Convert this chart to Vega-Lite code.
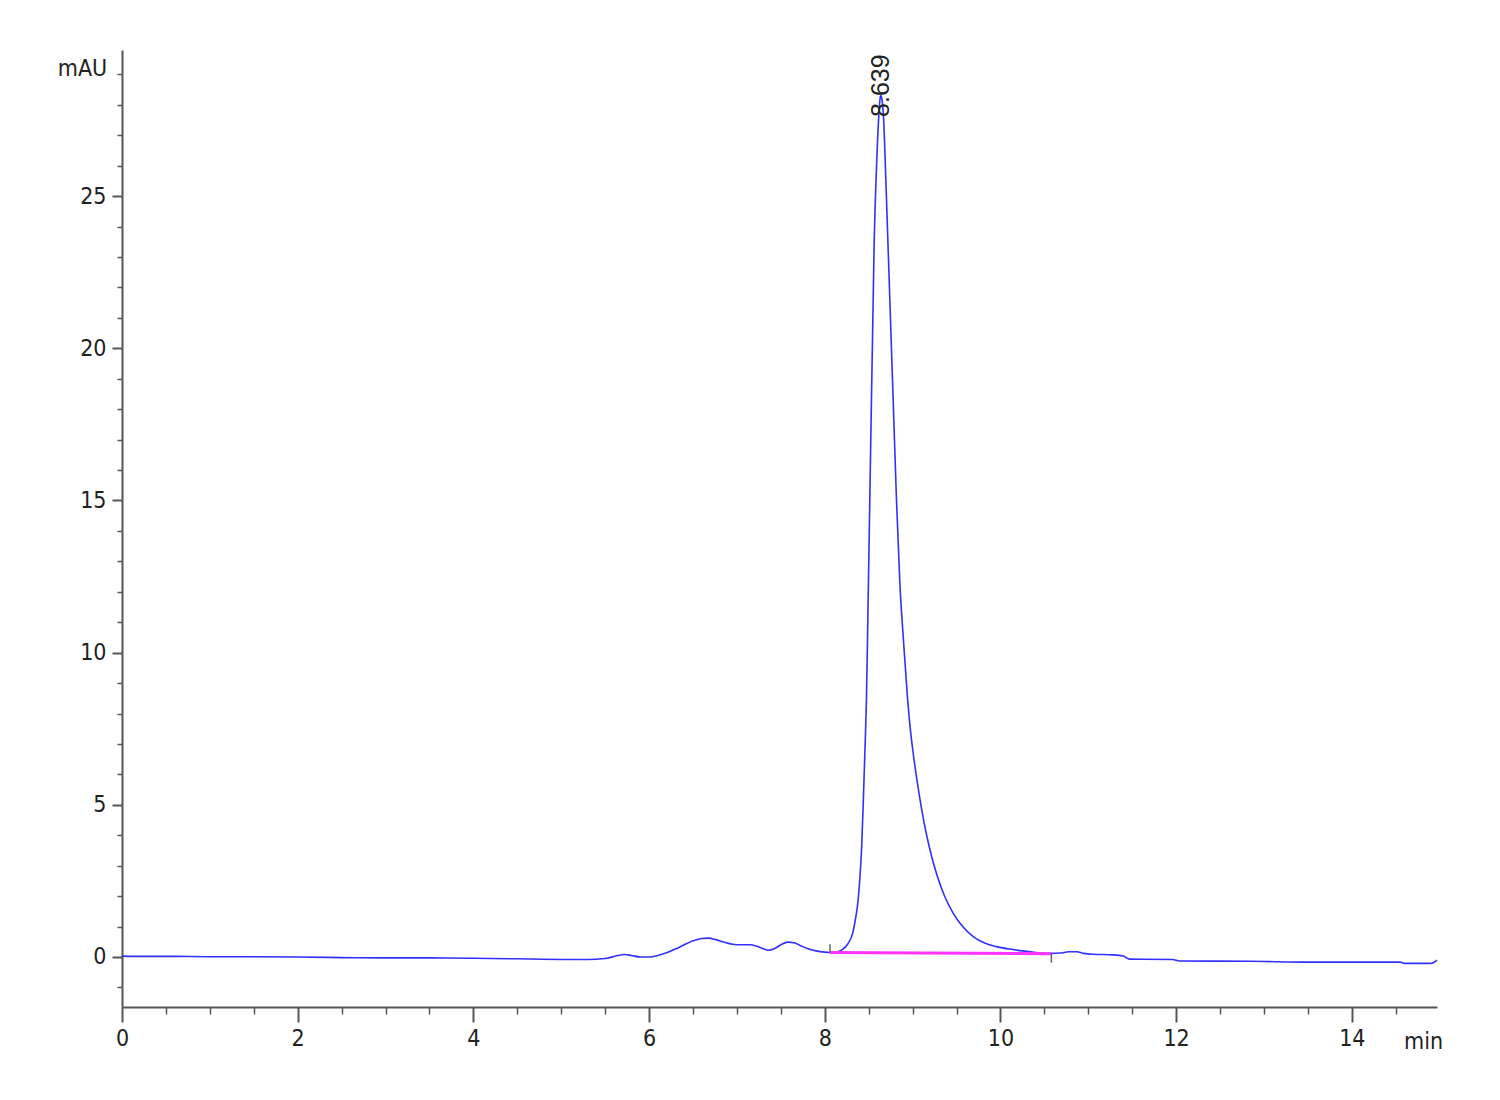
{
  "$schema": "https://vega.github.io/schema/vega-lite/v6.json",
  "width": 1315,
  "height": 957,
  "autosize": "none",
  "padding": {"left": 122, "top": 50, "right": 63, "bottom": 93},
  "background": "white",
  "config": {"view": {"stroke": null}, "font": "DejaVu Sans Condensed, Liberation Sans, Arial"},
  "datasets": {
    "curve": [
      {"t": 0, "mAU": 0.03}, {"t": 0.3, "mAU": 0.02}, {"t": 0.6, "mAU": 0.02}, {"t": 1.0, "mAU": 0.01},
      {"t": 1.5, "mAU": 0.01}, {"t": 2.0, "mAU": 0.0}, {"t": 2.5, "mAU": -0.02}, {"t": 3.0, "mAU": -0.03},
      {"t": 3.5, "mAU": -0.03}, {"t": 4.0, "mAU": -0.04}, {"t": 4.5, "mAU": -0.06}, {"t": 5.0, "mAU": -0.08},
      {"t": 5.3, "mAU": -0.08}, {"t": 5.5, "mAU": -0.05}, {"t": 5.62, "mAU": 0.03}, {"t": 5.72, "mAU": 0.08},
      {"t": 5.8, "mAU": 0.05}, {"t": 5.9, "mAU": 0.0}, {"t": 6.0, "mAU": 0.0}, {"t": 6.1, "mAU": 0.05},
      {"t": 6.2, "mAU": 0.14}, {"t": 6.3, "mAU": 0.26}, {"t": 6.4, "mAU": 0.4}, {"t": 6.5, "mAU": 0.53},
      {"t": 6.6, "mAU": 0.61}, {"t": 6.68, "mAU": 0.62}, {"t": 6.76, "mAU": 0.57}, {"t": 6.85, "mAU": 0.49},
      {"t": 6.95, "mAU": 0.42}, {"t": 7.05, "mAU": 0.4}, {"t": 7.15, "mAU": 0.4}, {"t": 7.22, "mAU": 0.36},
      {"t": 7.3, "mAU": 0.27}, {"t": 7.36, "mAU": 0.22}, {"t": 7.43, "mAU": 0.28}, {"t": 7.5, "mAU": 0.4},
      {"t": 7.58, "mAU": 0.49}, {"t": 7.65, "mAU": 0.47}, {"t": 7.72, "mAU": 0.38}, {"t": 7.8, "mAU": 0.28},
      {"t": 7.9, "mAU": 0.2}, {"t": 8.0, "mAU": 0.16}, {"t": 8.06, "mAU": 0.15}, {"t": 8.13, "mAU": 0.16},
      {"t": 8.2, "mAU": 0.24}, {"t": 8.26, "mAU": 0.42}, {"t": 8.32, "mAU": 0.8}, {"t": 8.35, "mAU": 1.25},
      {"t": 8.38, "mAU": 1.87}, {"t": 8.4, "mAU": 2.6}, {"t": 8.42, "mAU": 3.6}, {"t": 8.44, "mAU": 5.2},
      {"t": 8.46, "mAU": 7.0}, {"t": 8.475, "mAU": 8.5}, {"t": 8.49, "mAU": 11.0}, {"t": 8.51, "mAU": 14.5},
      {"t": 8.53, "mAU": 18.0}, {"t": 8.545, "mAU": 20.5}, {"t": 8.563, "mAU": 23.5}, {"t": 8.59, "mAU": 26.0},
      {"t": 8.619, "mAU": 27.8}, {"t": 8.63, "mAU": 28.2}, {"t": 8.639, "mAU": 28.3}, {"t": 8.65, "mAU": 28.2},
      {"t": 8.665, "mAU": 27.8}, {"t": 8.703, "mAU": 24.9}, {"t": 8.741, "mAU": 21.6}, {"t": 8.779, "mAU": 18.3},
      {"t": 8.817, "mAU": 15.0}, {"t": 8.855, "mAU": 12.3}, {"t": 8.9, "mAU": 10.25}, {"t": 8.94, "mAU": 8.6},
      {"t": 8.97, "mAU": 7.6}, {"t": 9.0, "mAU": 6.85}, {"t": 9.05, "mAU": 5.81}, {"t": 9.1, "mAU": 4.91},
      {"t": 9.16, "mAU": 4.0}, {"t": 9.22, "mAU": 3.27}, {"t": 9.28, "mAU": 2.67}, {"t": 9.36, "mAU": 2.03},
      {"t": 9.46, "mAU": 1.45}, {"t": 9.57, "mAU": 1.0}, {"t": 9.69, "mAU": 0.67},
      {"t": 9.82, "mAU": 0.46}, {"t": 9.955, "mAU": 0.34}, {"t": 10.1, "mAU": 0.26}, {"t": 10.22, "mAU": 0.21},
      {"t": 10.4, "mAU": 0.15}, {"t": 10.58, "mAU": 0.12}, {"t": 10.68, "mAU": 0.13}, {"t": 10.78, "mAU": 0.17},
      {"t": 10.87, "mAU": 0.17}, {"t": 10.95, "mAU": 0.12}, {"t": 11.05, "mAU": 0.09}, {"t": 11.28, "mAU": 0.07},
      {"t": 11.4, "mAU": 0.03}, {"t": 11.47, "mAU": -0.07}, {"t": 11.96, "mAU": -0.08}, {"t": 12.04, "mAU": -0.13},
      {"t": 12.84, "mAU": -0.14}, {"t": 13.52, "mAU": -0.17}, {"t": 14.55, "mAU": -0.17}, {"t": 14.6, "mAU": -0.21},
      {"t": 14.9, "mAU": -0.21}, {"t": 14.97, "mAU": -0.1}
    ],
    "baseline": [
      {"t": 8.06, "mAU": 0.15}, {"t": 10.58, "mAU": 0.11}
    ],
    "marks": [
      {"t": 8.06, "y1": 0.14, "y2": 0.42},
      {"t": 10.58, "y1": 0.12, "y2": -0.19}
    ],
    "label": [
      {"t": 8.636, "mAU": 27.6, "text": "8.639"}
    ]
  },
  "layer": [
    {
      "data": {"name": "curve"},
      "mark": {"type": "line", "opacity": 0},
      "encoding": {
        "x": {
          "field": "t", "type": "quantitative",
          "scale": {"domain": [0, 14.97], "nice": false, "zero": false},
          "axis": {
            "orient": "bottom",
            "values": [0.5, 1, 1.5, 2.5, 3, 3.5, 4.5, 5, 5.5, 6.5, 7, 7.5, 8.5, 9, 9.5, 10.5, 11, 11.5, 12.5, 13, 13.5, 14.5],
            "labels": false, "domain": false, "grid": false, "title": null,
            "tickSize": 7, "tickWidth": 1.5, "tickColor": "#555"
          }
        },
        "y": {
          "field": "mAU", "type": "quantitative",
          "scale": {"domain": [-1.643, 29.8], "nice": false, "zero": false},
          "axis": {
            "orient": "left",
            "values": [-1, 1, 2, 3, 4, 6, 7, 8, 9, 11, 12, 13, 14, 16, 17, 18, 19, 21, 22, 23, 24, 26, 27, 28, 29],
            "labels": false, "domain": false, "grid": false, "title": null,
            "tickSize": 5, "tickWidth": 1.5, "tickColor": "#555"
          }
        }
      }
    },
    {
      "data": {"name": "curve"},
      "mark": {"type": "line", "color": "#3030ff", "strokeWidth": 1.6, "interpolate": "monotone"},
      "encoding": {
        "x": {
          "field": "t", "type": "quantitative",
          "scale": {"domain": [0, 14.97], "nice": false, "zero": false},
          "axis": {
            "orient": "bottom",
            "values": [0, 2, 4, 6, 8, 10, 12, 14],
            "grid": false, "labelFlush": false, "labelOverlap": false,
            "domainColor": "#555", "domainWidth": 2,
            "tickSize": 15, "tickWidth": 2, "tickColor": "#555",
            "labelFontSize": 23, "labelColor": "#222", "labelPadding": 5,
            "labelFont": "DejaVu Sans Condensed, Liberation Sans, Arial",
            "title": "min", "titleFontSize": 23, "titleFontWeight": "normal", "titleColor": "#222",
            "titleFont": "DejaVu Sans Condensed, Liberation Sans, Arial",
            "titleX": 1301, "titleY": 34, "titleAlign": "center", "titleBaseline": "middle", "titleAngle": 0
          }
        },
        "y": {
          "field": "mAU", "type": "quantitative",
          "scale": {"domain": [-1.643, 29.8], "nice": false, "zero": false},
          "axis": {
            "orient": "left",
            "values": [0, 5, 10, 15, 20, 25],
            "grid": false, "labelFlush": false, "labelOverlap": false,
            "domainColor": "#555", "domainWidth": 2,
            "tickSize": 10, "tickWidth": 2, "tickColor": "#555",
            "labelFontSize": 23, "labelColor": "#222", "labelPadding": 6,
            "labelFont": "DejaVu Sans Condensed, Liberation Sans, Arial",
            "title": "mAU", "titleFontSize": 23, "titleFontWeight": "normal", "titleColor": "#222",
            "titleFont": "DejaVu Sans Condensed, Liberation Sans, Arial",
            "titleX": -40, "titleY": 18, "titleAlign": "center", "titleBaseline": "middle", "titleAngle": 0
          }
        }
      }
    },
    {
      "data": {"name": "baseline"},
      "mark": {"type": "line", "color": "#ff33ff", "strokeWidth": 3},
      "encoding": {
        "x": {"field": "t", "type": "quantitative", "axis": null},
        "y": {"field": "mAU", "type": "quantitative", "axis": null}
      }
    },
    {
      "data": {"name": "marks"},
      "mark": {"type": "rule", "color": "#666", "strokeWidth": 1.5},
      "encoding": {
        "x": {"field": "t", "type": "quantitative", "axis": null},
        "y": {"field": "y1", "type": "quantitative", "axis": null},
        "y2": {"field": "y2"}
      }
    },
    {
      "data": {"name": "label"},
      "mark": {"type": "text", "angle": 270, "align": "left", "baseline": "middle", "fontSize": 25, "color": "#222", "font": "Liberation Sans, Arial"},
      "encoding": {
        "x": {"field": "t", "type": "quantitative", "axis": null},
        "y": {"field": "mAU", "type": "quantitative", "axis": null},
        "text": {"field": "text"}
      }
    }
  ],
  "resolve": {"axis": {"x": "independent", "y": "independent"}}
}
